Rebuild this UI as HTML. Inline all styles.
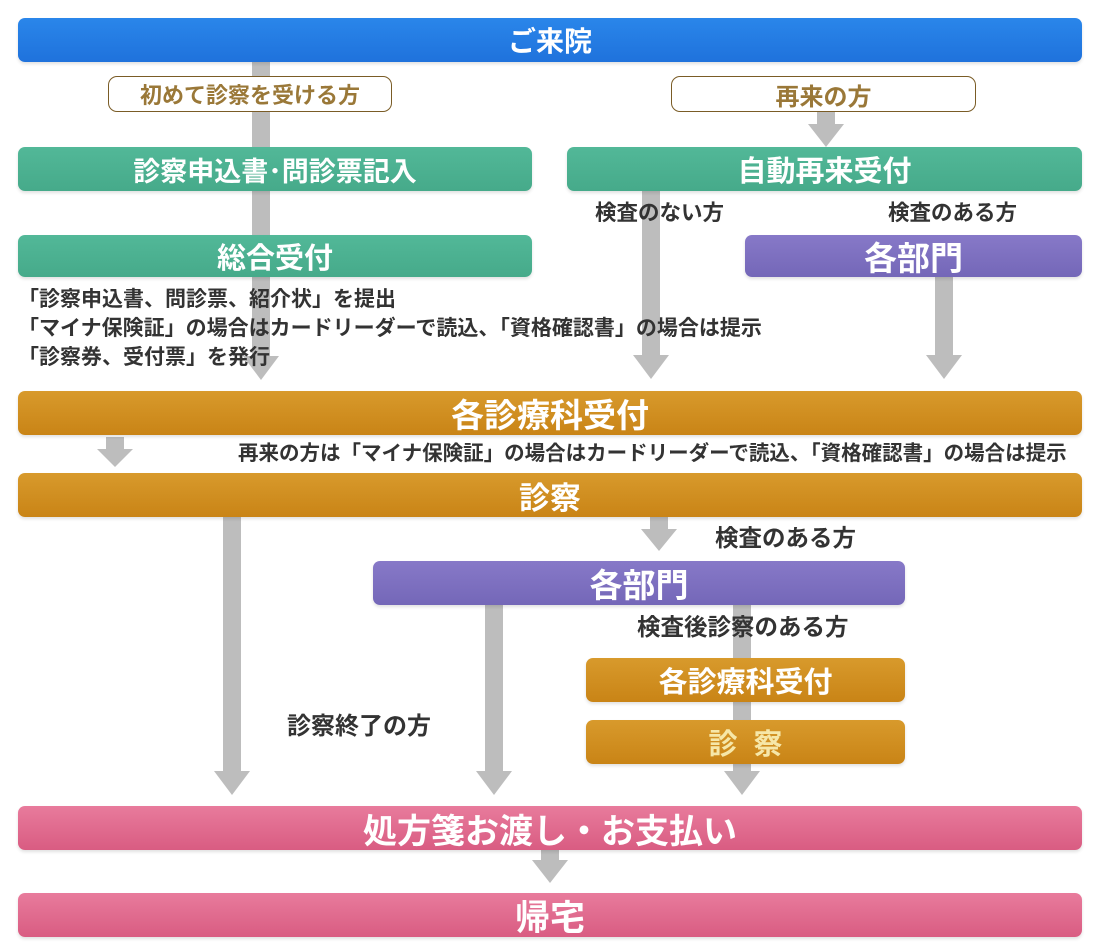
<!DOCTYPE html>
<html><head><meta charset="utf-8"><style>
*{margin:0;padding:0;box-sizing:border-box}
body{width:1100px;height:945px;background:#fff;position:relative;overflow:hidden;font-family:"Liberation Sans","Noto Sans CJK JP",sans-serif;font-weight:bold}
.b{position:absolute;border-radius:7px;color:#fff;display:flex;align-items:center;justify-content:center;box-shadow:0 2px 3px rgba(0,0,0,.12);white-space:nowrap}
.blue{background:linear-gradient(#2a86ea,#1f72dc)}
.green{background:linear-gradient(#52b898,#46aa8a)}
.purple{background:linear-gradient(#8779c8,#7467b8)}
.orange{background:linear-gradient(#d89a2c,#c98416)}
.pink{background:linear-gradient(#e87b9c,#d95c82)}
.lab{position:absolute;border:1.5px solid #7a5c26;border-radius:9px;background:#fff;color:#9a7838;display:flex;align-items:center;justify-content:center;font-size:22px}
.t{position:absolute;color:#333;font-size:21px;white-space:nowrap;line-height:1}
svg{position:absolute;left:0;top:0}
</style></head><body>
<svg width="1100" height="945">
<g fill="#bdbdbd">
<rect x="252" y="62" width="18" height="296"/><polygon points="243,356 279,356 261,380"/>
<rect x="817" y="112" width="18" height="14"/><polygon points="808,124 844,124 826,147"/>
<rect x="642" y="191" width="18" height="166"/><polygon points="633,355 669,355 651,379"/>
<rect x="935" y="277" width="18" height="80"/><polygon points="926,355 962,355 944,379"/>
<rect x="106" y="437" width="18" height="14"/><polygon points="97,449 133,449 115,467"/>
<rect x="650" y="517" width="18" height="14"/><polygon points="641,529 677,529 659,551"/>
<rect x="223" y="517" width="18" height="256"/><polygon points="214,771 250,771 232,795"/>
<rect x="485" y="605" width="18" height="168"/><polygon points="476,771 512,771 494,795"/>
<rect x="733" y="605" width="18" height="168"/><polygon points="724,771 760,771 742,795"/>
<rect x="541" y="850" width="18" height="12"/><polygon points="532,860 568,860 550,883"/>
</g></svg>
<div class="b blue" style="left:18px;top:18px;width:1064px;height:44px;font-size:28px">ご来院</div>
<div class="lab" style="left:108px;top:76px;width:284px;height:36px">初めて診察を受ける方</div>
<div class="lab" style="left:671px;top:76px;width:305px;height:36px;font-size:24px">再来の方</div>
<div class="b green" style="left:18px;top:147px;width:514px;height:44px;font-size:27px">診察申込書･問診票記入</div>
<div class="b green" style="left:567px;top:147px;width:515px;height:44px;font-size:29px">自動再来受付</div>
<div class="t" style="left:595px;top:203px;font-size:21.5px">検査のない方</div>
<div class="t" style="left:888px;top:203px;font-size:21.5px">検査のある方</div>
<div class="b green" style="left:18px;top:235px;width:514px;height:42px;font-size:29px">総合受付</div>
<div class="b purple" style="left:745px;top:235px;width:337px;height:42px;font-size:33px">各部門</div>
<div class="t" style="left:18px;top:289px">「診察申込書、問診票、紹介状」を提出</div>
<div class="t" style="left:18px;top:318px">「マイナ保険証」の場合はカードリーダーで読込、「資格確認書」の場合は提示</div>
<div class="t" style="left:18px;top:347px">「診察券、受付票」を発行</div>
<div class="b orange" style="left:18px;top:391px;width:1064px;height:44px;font-size:33px">各診療科受付</div>
<div class="t" style="left:238px;top:444px;font-size:20.5px">再来の方は「マイナ保険証」の場合はカードリーダーで読込、「資格確認書」の場合は提示</div>
<div class="b orange" style="left:18px;top:473px;width:1064px;height:44px;font-size:31px">診察</div>
<div class="t" style="left:715px;top:527px;font-size:23.5px">検査のある方</div>
<div class="b purple" style="left:373px;top:561px;width:532px;height:44px;font-size:33px">各部門</div>
<div class="t" style="left:637px;top:616px;font-size:23.5px">検査後診察のある方</div>
<div class="b orange" style="left:586px;top:658px;width:319px;height:44px;font-size:29px">各診療科受付</div>
<div class="b orange" style="left:586px;top:720px;width:319px;height:44px;font-size:29px;color:#f6e7a8;letter-spacing:16px;padding-left:16px">診察</div>
<div class="t" style="left:287px;top:715px;font-size:24px">診察終了の方</div>
<div class="b pink" style="left:18px;top:806px;width:1064px;height:44px;font-size:34px">処方箋お渡し・お支払い</div>
<div class="b pink" style="left:18px;top:893px;width:1064px;height:44px;font-size:35px">帰宅</div>
</body></html>
